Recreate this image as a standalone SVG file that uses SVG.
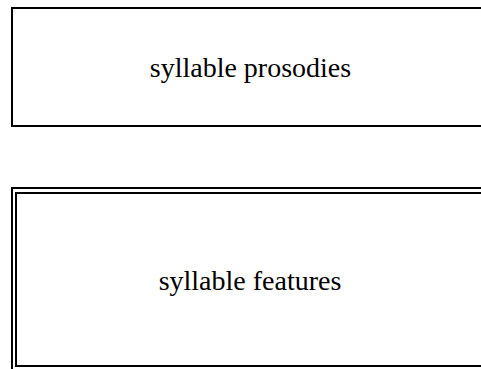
<svg xmlns="http://www.w3.org/2000/svg" width="481" height="369" viewBox="0 0 481 369">
  <style>
    .frame { fill: none; stroke: #000; stroke-width: 2; }
    .label { font-family: "Liberation Serif", "Times New Roman", serif; font-size: 28px; fill: #000; text-anchor: middle; }
  </style>
  <rect width="481" height="369" fill="#fff"/>
  <g id="connectors"></g>
  <g id="syllable-prosodies">
    <rect class="frame" x="12" y="8" width="500" height="118"/>
    <text class="label" x="250.5" y="77">syllable prosodies</text>
  </g>
  <g id="syllable-features">
    <rect class="frame" x="12" y="188" width="500" height="200"/>
    <rect class="frame" x="16" y="193" width="500" height="173"/>
    <text class="label" x="250" y="290">syllable features</text>
  </g>
</svg>
